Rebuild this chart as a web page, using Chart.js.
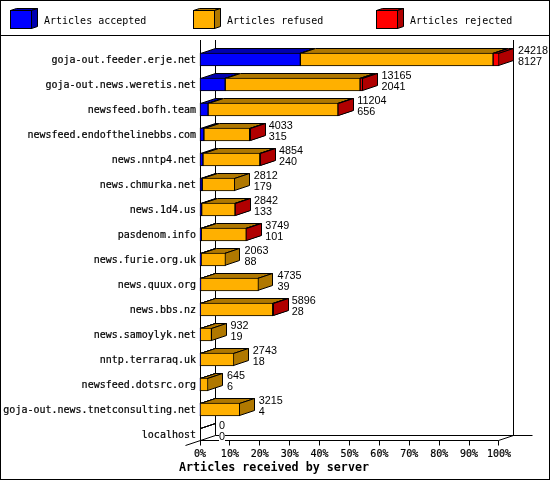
<!DOCTYPE html>
<html>
<head>
<meta charset="utf-8">
<title>Articles received by server</title>
<script src="https://cdn.jsdelivr.net/npm/chart.js@4"></script>
<style>
  html, body { margin: 0; padding: 0; background: #fff; }
  canvas { display: block; }
</style>
</head>
<body>
<canvas id="serverChart" width="550" height="480"></canvas>
<script>
const servers = ['goja-out.feeder.erje.net', 'goja-out.news.weretis.net', 'newsfeed.bofh.team',
    'newsfeed.endofthelinebbs.com', 'news.nntp4.net', 'news.chmurka.net', 'news.1d4.us', 'pasdenom.info',
    'news.furie.org.uk', 'news.quux.org', 'news.bbs.nz', 'news.samoylyk.net', 'nntp.terraraq.uk',
    'newsfeed.dotsrc.org', 'goja-out.news.tnetconsulting.net', 'localhost'];
const totals = [24218, 13165, 11204, 4033, 4854, 2812, 2842, 3749, 2063, 4735, 5896, 932, 2743, 645, 3215, 0];
const accepted = [8127, 2041, 656, 315, 240, 179, 133, 101, 88, 39, 28, 19, 18, 6, 4, 0];
const refused = [15611, 10924, 10518, 3708, 4606, 2633, 2704, 3645, 1975, 4696, 5863, 913, 2725, 639, 3211, 0];
const rejected = [480, 200, 30, 10, 8, 0, 5, 3, 0, 0, 5, 0, 0, 0, 0, 0];
const percentTicks = [0, 10, 20, 30, 40, 50, 60, 70, 80, 90, 100];
const peak = 24218;
const axisTitle = 'Articles received by server';

const monoFont = '"DejaVu Sans Mono", monospace';
const valueFont = '10.8px "Liberation Sans", sans-serif';
const depthX = 15, depthY = 5;   // bar extrusion

const frontColors = ['#0000ff', '#ffb000', '#ff0000'];
const darkColors = ['#0000b0', '#b07800', '#b00000'];

const asPercent = v => v / peak * 100;

function line(ctx, x1, y1, x2, y2) {
    ctx.beginPath();
    ctx.moveTo(x1, y1);
    ctx.lineTo(x2, y2);
    ctx.stroke();
}

function poly(ctx, pts, fill) {
    ctx.beginPath();
    pts.forEach((p, i) => i ? ctx.lineTo(p[0], p[1]) : ctx.moveTo(p[0], p[1]));
    ctx.closePath();
    ctx.fillStyle = fill;
    ctx.fill();
    ctx.stroke();
}

// page border, legend and axis title
const pagePlugin = {
    id: 'page',
    beforeDraw(chart) {
        const ctx = chart.ctx;
        ctx.save();
        ctx.fillStyle = '#fff';
        ctx.fillRect(0, 0, chart.width, chart.height);
        ctx.strokeStyle = '#000';
        ctx.lineWidth = 1;
        ctx.strokeRect(0.5, 0.5, chart.width - 1, chart.height - 1);
        line(ctx, 0, 35.5, chart.width, 35.5);

        ctx.font = '10px ' + monoFont;
        ctx.textBaseline = 'middle';
        chart.data.datasets.forEach((ds, i) => {
            const x = 10.5 + i * 183;
            poly(ctx, [[x, 10.5], [x + 6, 8.5], [x + 27, 8.5], [x + 21, 10.5]], darkColors[i]);
            poly(ctx, [[x + 21, 10.5], [x + 27, 8.5], [x + 27, 26.5], [x + 21, 28.5]], darkColors[i]);
            ctx.fillStyle = frontColors[i];
            ctx.fillRect(x, 10.5, 21, 18);
            ctx.strokeRect(x, 10.5, 21, 18);
            ctx.fillStyle = '#000';
            ctx.fillText(ds.label, x + 33.5, 21);
        });

        ctx.font = 'bold 11.7px ' + monoFont;
        ctx.textAlign = 'center';
        ctx.fillText(axisTitle, 274, 468);
        ctx.restore();
    }
};

// walls, floor and the extruded faces, drawn under the front faces of the bars
const depthPlugin = {
    id: 'depth',
    beforeDatasetsDraw(chart) {
        const ctx = chart.ctx;
        const xs = chart.scales.x;
        const floor = 440.5;
        const left = xs.getPixelForValue(0) + 0.5;
        const right = Math.floor(xs.getPixelForValue(100)) - 0.5;
        ctx.save();
        ctx.strokeStyle = '#000';
        ctx.lineWidth = 1;

        line(ctx, left, 40, left, floor);
        line(ctx, left + depthX, 40, left + depthX, floor - depthY);
        line(ctx, right + depthX, 40, right + depthX, floor - depthY);
        line(ctx, left, floor, right, floor);
        line(ctx, left + depthX, floor - depthY, right + depthX + 19, floor - depthY);
        line(ctx, left - depthX, floor + depthY, left + depthX, floor - depthY);
        line(ctx, right, floor, right + depthX, floor - depthY);
        percentTicks.forEach(t => {
            const x = Math.floor(xs.getPixelForValue(t)) + (t === 100 ? -0.5 : 0.5);
            line(ctx, x, floor, x, floor + 5);
        });

        chart.data.datasets.forEach((ds, d) => {
            chart.getDatasetMeta(d).data.forEach((bar, r) => {
                const top = bar.y - 6;
                const bottom = bar.y + 6;
                // an empty row only shows the edge of its zero width bar
                if (!totals[r]) {
                    line(ctx, left, top, left + depthX, top - depthY);
                    return;
                }
                if (!ds.data[r]) return;
                const x0 = Math.round(bar.base) + 0.5;
                const x1 = Math.max(Math.round(bar.x) - 0.5, x0);
                poly(ctx, [[x0, top], [x0 + depthX, top - depthY], [x1 + depthX, top - depthY], [x1, top]], darkColors[d]);
                poly(ctx, [[x1, top], [x1 + depthX, top - depthY], [x1 + depthX, bottom - depthY], [x1, bottom]], darkColors[d]);
            });
        });
        ctx.restore();
    },
    afterDatasetsDraw(chart) {
        const ctx = chart.ctx;
        const xs = chart.scales.x;
        const ys = chart.scales.y;
        ctx.save();
        ctx.font = valueFont;
        ctx.textBaseline = 'middle';
        totals.forEach((total, r) => {
            const x = xs.getPixelForValue(asPercent(total)) + depthX + 4;
            const y = ys.getPixelForValue(r);
            const second = String(accepted[r]);
            ctx.fillStyle = '#fff';
            ctx.fillRect(x, y - 2, ctx.measureText(second).width, 10);
            ctx.fillStyle = '#000';
            ctx.fillText(String(total), x, y - 8);
            ctx.fillText(second, x, y + 3);
        });
        ctx.restore();
    }
};

const series = [
    { label: 'Articles accepted', values: accepted },
    { label: 'Articles refused', values: refused },
    { label: 'Articles rejected', values: rejected }
];

new Chart(document.getElementById('serverChart'), {
    type: 'bar',
    data: {
        labels: servers,
        datasets: series.map((s, i) => ({
            label: s.label,
            data: s.values.map(asPercent),
            backgroundColor: frontColors[i],
            borderColor: '#000',
            borderWidth: 1,
            borderSkipped: false,
            barThickness: 13,
            clip: false
        }))
    },
    plugins: [pagePlugin, depthPlugin],
    options: {
        indexAxis: 'y',
        responsive: false,
        animation: false,
        layout: { padding: { top: 47, right: 51, left: 0, bottom: 0 } },
        plugins: { legend: { display: false }, tooltip: { enabled: false } },
        scales: {
            x: {
                stacked: true,
                min: 0,
                max: 100,
                grid: { display: false, drawTicks: false },
                border: { display: false },
                afterFit(scale) { scale.height = 33; },
                afterBuildTicks(scale) { scale.ticks = percentTicks.map(value => ({ value })); },
                ticks: {
                    color: '#000',
                    font: { family: monoFont, size: 10 },
                    padding: 1,
                    maxRotation: 0,
                    autoSkip: false,
                    textStrokeColor: '#000',
                    textStrokeWidth: 0.2,
                    callback: v => v + '%'
                }
            },
            y: {
                stacked: true,
                grid: { display: false, drawTicks: false },
                border: { display: false },
                afterFit(scale) { scale.width = 200; },
                ticks: {
                    color: '#000',
                    font: { family: monoFont, size: 10, lineHeight: '2px' },
                    padding: 4,
                    autoSkip: false,
                    textStrokeColor: '#000',
                    textStrokeWidth: 0.2,
                    // blank first line nudges the label down to the bar's middle
                    callback(v) { return ['', this.getLabelForValue(v)]; }
                }
            }
        }
    }
});
</script>
</body>
</html>
